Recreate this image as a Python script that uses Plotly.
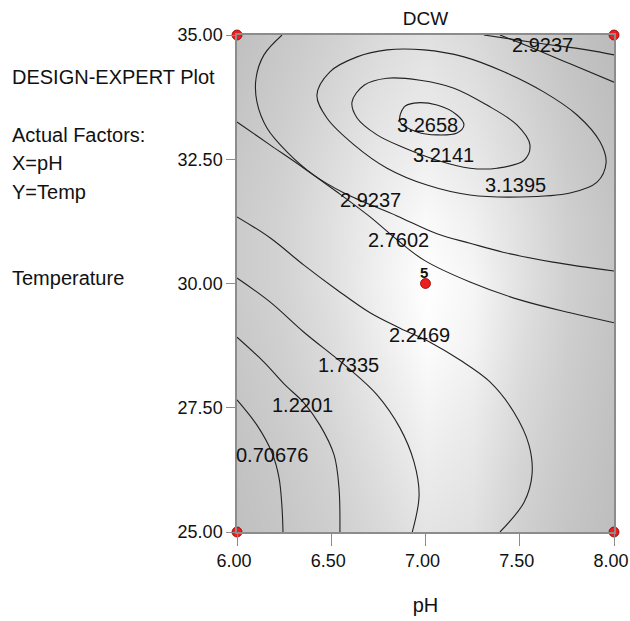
import plotly.graph_objects as go

# ---------------- data ----------------
# shading of the background (grey level 0-255) on a coarse grid
shade_ph = [6.0, 6.25, 6.5, 6.75, 7.0, 7.25, 7.5, 7.75, 8.0]
shade_temp = [25.0, 26.25, 27.5, 28.75, 30.0, 31.25, 32.5, 33.75, 35.0]
shade_z = [
    [192, 198, 206, 216, 228, 224, 208, 197, 190],
    [194, 201, 210, 222, 236, 230, 212, 200, 191],
    [197, 205, 215, 229, 244, 236, 217, 203, 193],
    [200, 208, 220, 236, 252, 243, 222, 206, 195],
    [203, 211, 224, 240, 255, 246, 226, 208, 197],
    [203, 211, 224, 238, 250, 240, 224, 207, 196],
    [200, 208, 220, 232, 240, 232, 218, 203, 193],
    [196, 204, 214, 225, 232, 225, 212, 199, 190],
    [192, 200, 208, 218, 225, 218, 206, 195, 187],
]

# contour lines of DCW (pH, Temp)
c070_ph = [6.0, 6.106, 6.186, 6.223, 6.239, 6.244]
c070_t = [27.66, 27.15, 26.59, 26.09, 25.48, 25.0]

c122_ph = [6.0, 6.143, 6.255, 6.355, 6.440, 6.515, 6.541, 6.546]
c122_t = [28.92, 28.42, 27.96, 27.60, 27.15, 26.55, 25.89, 25.0]

c173_ph = [6.0, 6.175, 6.355, 6.584, 6.743, 6.865, 6.939, 6.966, 6.930]
c173_t = [30.11, 29.63, 29.02, 28.32, 27.76, 27.09, 26.41, 25.74, 25.0]

c225_ph = [6.0, 6.175, 6.355, 6.531, 6.706, 6.865, 7.024, 7.183, 7.342, 7.469, 7.549, 7.565, 7.523, 7.395]
c225_t = [31.34, 30.92, 30.37, 29.87, 29.41, 29.10, 28.82, 28.46, 28.02, 27.41, 26.75, 26.15, 25.60, 25.0]

c276_ph = [6.0, 6.175, 6.355, 6.531, 6.706, 6.849, 6.992, 7.236, 7.501, 7.767, 8.0]
c276_t = [33.25, 32.79, 32.32, 31.84, 31.34, 30.88, 30.47, 30.03, 29.67, 29.41, 29.21]

c292_ph = [6.239, 6.143, 6.101, 6.106, 6.159, 6.265, 6.408, 6.568, 6.849, 7.061, 7.236, 7.411, 7.676, 8.0]
c292_t = [35.0, 34.60, 34.13, 33.65, 33.13, 32.65, 32.18, 31.82, 31.36, 31.00, 30.81, 30.63, 30.43, 30.25]

c292b_ph = [7.310, 7.592, 7.857, 8.0]
c292b_t = [35.0, 34.84, 34.70, 34.60]

c_corner_ph = [7.395, 7.592, 7.767, 8.0]
c_corner_t = [35.0, 34.70, 34.42, 34.05]

c314_ph = [6.424, 6.493, 6.637, 6.796, 6.992, 7.204, 7.416, 7.629, 7.804, 7.926, 7.958, 7.910,
           7.767, 7.501, 7.236, 7.008, 6.796, 6.621, 6.477, 6.424]
c314_t = [33.79, 34.26, 34.56, 34.70, 34.70, 34.56, 34.26, 33.85, 33.39, 32.85, 32.43, 32.04,
          31.82, 31.74, 31.78, 31.98, 32.32, 32.79, 33.33, 33.79]

c321_ph = [6.610, 6.674, 6.796, 6.971, 7.151, 7.326, 7.485, 7.554, 7.523, 7.379, 7.236, 7.061,
           6.886, 6.743, 6.637, 6.610]
c321_t = [33.65, 33.99, 34.13, 34.09, 33.93, 33.59, 33.19, 32.79, 32.48, 32.32, 32.32, 32.48,
          32.73, 32.99, 33.33, 33.65]

c327_ph = [6.865, 6.886, 6.939, 7.061, 7.167, 7.204, 7.167, 7.061, 6.955, 6.865]
c327_t = [33.25, 33.55, 33.63, 33.59, 33.39, 33.19, 33.03, 32.99, 33.05, 33.25]

# contour labels
label_text = ["3.2658", "3.2141", "3.1395", "2.9237", "2.7602", "2.2469", "1.7335",
              "1.2201", "0.70676", "2.9237"]
label_ph = [7.008, 7.098, 7.475, 6.706, 6.855, 6.966, 6.589, 6.350, 6.186, 7.623]
label_t = [33.19, 32.59, 31.98, 31.68, 30.88, 28.96, 28.36, 27.56, 26.55, 34.80]

# design points
pt_ph = [6.0, 8.0, 6.0, 8.0, 7.0]
pt_t = [35.0, 35.0, 25.0, 25.0, 30.0]
center_count = "5"

x_ticks = [6.0, 6.5, 7.0, 7.5, 8.0]
y_ticks = [25.0, 27.5, 30.0, 32.5, 35.0]

side_text = ["DESIGN-EXPERT Plot", "Actual Factors:", "X=pH", "Y=Temp", "Temperature"]

# ---------------- figure ----------------
FONT = "Liberation Sans, Arial, Helvetica, sans-serif"
fig = go.Figure()

fig.add_trace(go.Heatmap(
    x=shade_ph, y=shade_temp, z=shade_z, zmin=0, zmax=255, zsmooth="best",
    colorscale=[[0, "black"], [1, "white"]], showscale=False, hoverinfo="skip"))

lines = [(c070_ph, c070_t), (c122_ph, c122_t), (c173_ph, c173_t), (c225_ph, c225_t),
         (c276_ph, c276_t), (c292_ph, c292_t), (c292b_ph, c292b_t), (c_corner_ph, c_corner_t),
         (c314_ph, c314_t), (c321_ph, c321_t), (c327_ph, c327_t)]
for xs, ys in lines:
    fig.add_trace(go.Scatter(x=xs, y=ys, mode="lines",
                             line=dict(color="#222222", width=1.1, shape="spline", smoothing=1.0),
                             hoverinfo="skip", showlegend=False))

fig.add_trace(go.Scatter(x=pt_ph, y=pt_t, mode="markers", cliponaxis=False,
                         marker=dict(color="#ee1c1c", size=10,
                                     line=dict(color="#8b0000", width=0.8)),
                         hoverinfo="skip", showlegend=False))

for txt, xv, yv in zip(label_text, label_ph, label_t):
    fig.add_annotation(x=xv, y=yv, text=txt, showarrow=False,
                       font=dict(family=FONT, size=20, color="#111111"))

fig.add_annotation(x=pt_ph[4], y=pt_t[4], text="<b>" + center_count + "</b>", showarrow=False,
                   yshift=11, xshift=-2, font=dict(family=FONT, size=15, color="#111111"))

side_y = [77, 135, 163, 192, 278]
for txt, py in zip(side_text, side_y):
    fig.add_annotation(xref="paper", yref="paper", x=(10 - 237) / 377, y=(532 - py) / 497,
                       xanchor="left", yanchor="middle", text=txt, showarrow=False,
                       font=dict(family=FONT, size=20, color="#111111"))

axis_common = dict(showgrid=False, zeroline=False, showline=True, mirror=True,
                   linecolor="#8c8c8c", linewidth=1.5, ticks="outside", tickcolor="#8c8c8c",
                   tickfont=dict(family=FONT, size=18, color="#111111"), tickformat=".2f",
                   ticklabeloverflow="allow", automargin=False)

fig.update_layout(
    width=630, height=621,
    margin=dict(l=237, r=16, t=35, b=89, autoexpand=False),
    paper_bgcolor="white", plot_bgcolor="white",
    title=dict(text="DCW", x=0.5, xref="paper", y=1 - 18 / 621, yref="container",
               xanchor="center", yanchor="middle",
               font=dict(family=FONT, size=19, color="#111111")),
    xaxis=dict(range=[6.0, 8.0], tickvals=x_ticks, ticklen=12, ticklabelshift=-3,
               title=dict(text="pH", standoff=28, font=dict(family=FONT, size=20, color="#111111")),
               **axis_common),
    yaxis=dict(range=[25.0, 35.0], tickvals=y_ticks, ticklen=9, **axis_common),
    showlegend=False,
)

fig.write_html("out.html", config={"displayModeBar": False},
               post_script="document.body.style.margin='0';")
